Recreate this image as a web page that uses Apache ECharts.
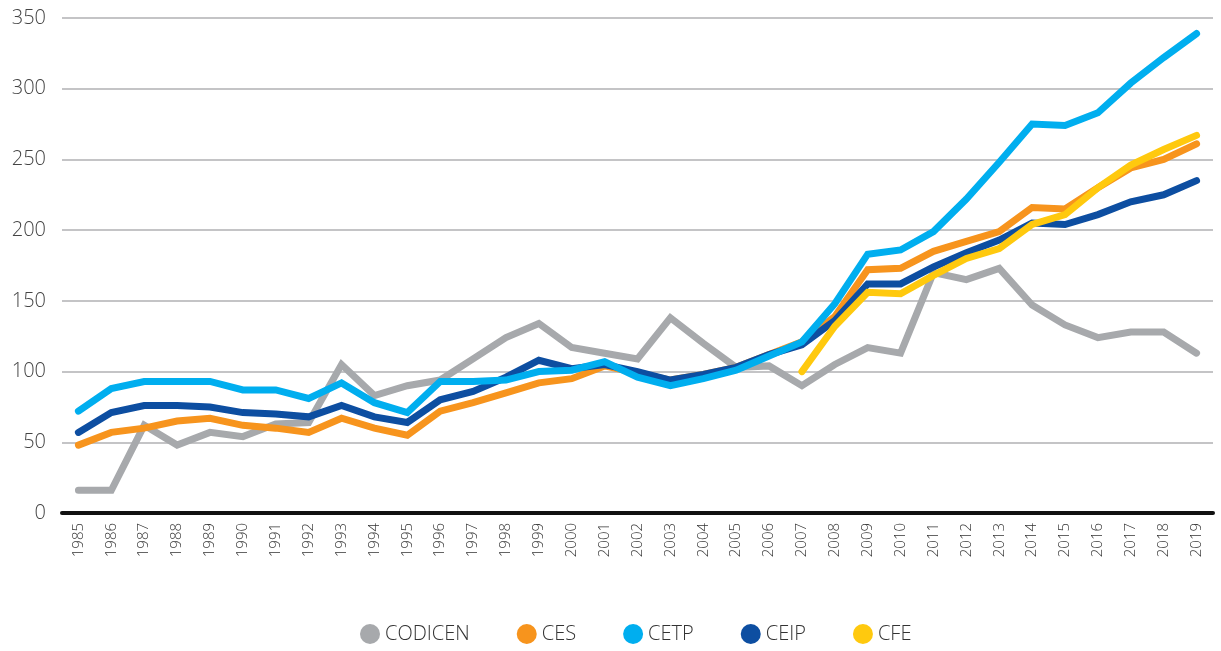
<!DOCTYPE html>
<html lang="es">
<head>
    <meta charset="UTF-8">
    <style>
        html, body { margin: 0; padding: 0; background: #fff; }
        #chart { width: 1221px; height: 651px; }
    </style>
    <script src="https://cdn.jsdelivr.net/npm/echarts@6/dist/echarts.min.js"></script>
</head>
<body>
    <div id="chart"></div>
    <script>
        // años
        var years = [];
        for (var y = 1985; y <= 2019; y++) years.push(String(y));

        var codicen = [16, 16, 62, 48, 57, 54, 63, 64, 105, 83, 90, 94, 109, 124, 134, 117, 113, 109, 138, 120,
                       103, 104, 90, 105, 117, 113, 170, 165, 173, 147, 133, 124, 128, 128, 113];
        var ces = [48, 57, 60, 65, 67, 62, 60, 57, 67, 60, 55, 72, 78, 85, 92, 95, 104, 99, 94, 98,
                   103, 112, 121, 139, 172, 173, 185, 192, 199, 216, 215, 230, 244, 250, 261];
        var cetp = [72, 88, 93, 93, 93, 87, 87, 81, 92, 78, 71, 93, 93, 94, 100, 101, 107, 96, 90, 95,
                    101, 111, 121, 148, 183, 186, 199, 222, 248, 275, 274, 283, 304, 322, 339];
        var ceip = [57, 71, 76, 76, 75, 71, 70, 68, 76, 68, 64, 80, 86, 96, 108, 102, 105, 100, 94, 98,
                    103, 112, 119, 136, 162, 162, 174, 184, 193, 205, 204, 211, 220, 225, 235];
        var cfe = [null, null, null, null, null, null, null, null, null, null, null, null, null, null, null, null, null, null, null, null,
                   null, null, 100, 132, 156, 155, 168, 180, 187, 204, 211, 230, 246, 257, 267];

        var seriesNames = ['CODICEN', 'CES', 'CETP', 'CEIP', 'CFE'];
        var seriesData = [codicen, ces, cetp, ceip, cfe];
        var colors = ['#a7a9ac', '#f7941d', '#00aeef', '#0d4ea1', '#ffc90e'];
        var zOrder = [2, 3, 5, 4, 6];

        var chart = echarts.init(document.getElementById('chart'));

        var option = {
            animation: false,
            textStyle: { fontFamily: 'Open Sans', fontWeight: 300 },
            grid: { left: 62, right: 8, top: 18, bottom: 138 },
            legend: {
                data: seriesNames,
                bottom: 2,
                left: 355,
                icon: 'circle',
                itemWidth: 20,
                itemHeight: 20,
                itemGap: 47,
                textStyle: { fontSize: 20, color: '#333', fontFamily: 'Open Sans', fontWeight: 300 }
            },
            xAxis: {
                type: 'category',
                data: years,
                boundaryGap: true,
                axisLine: { lineStyle: { color: '#111', width: 4 } },
                axisTick: { show: false },
                axisLabel: { rotate: 90, fontSize: 15, color: '#333', margin: 10, interval: 0 }
            },
            yAxis: {
                type: 'value',
                min: 0,
                max: 350,
                interval: 50,
                axisLine: { show: false },
                axisTick: { show: false },
                axisLabel: { fontSize: 20, color: '#444', margin: 16 },
                splitLine: { lineStyle: { color: '#c4c4c6', width: 2 } }
            },
            series: seriesNames.map(function (name, i) {
                return {
                    name: name,
                    type: 'line',
                    data: seriesData[i],
                    z: zOrder[i],
                    symbol: 'none',
                    showSymbol: false,
                    connectNulls: false,
                    color: colors[i],
                    lineStyle: { width: 7, color: colors[i], cap: 'round', join: 'miter' }
                };
            })
        };

        chart.setOption(option);
    </script>
</body>
</html>
